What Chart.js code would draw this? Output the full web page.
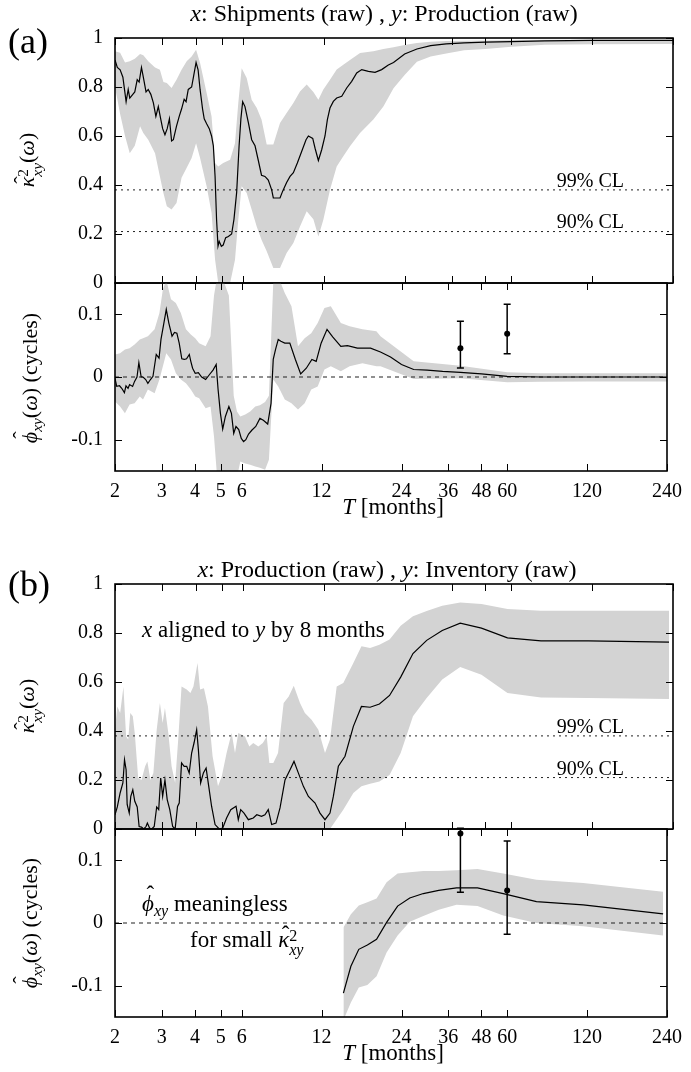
<!DOCTYPE html>
<html>
<head>
<meta charset="utf-8">
<script src="https://cdn.jsdelivr.net/npm/chart.js@4.4.1/dist/chart.umd.min.js"></script>
<style>
body { margin: 0; background: #fff; }
#wrap { position: relative; width: 691px; height: 1072px; overflow: hidden; font-family: "Liberation Serif", "Times New Roman", serif; color: #000; }
canvas { position: absolute; left: 0; }
.lbl { position: absolute; white-space: nowrap; line-height: 1; z-index: 5; }
.ctr { transform: translateX(-50%); }
.rgt { transform: translateX(-100%); }
.rot { transform: translate(-50%, -50%) rotate(-90deg); }
.acc { position: relative; display: inline-block; }
.acc .cf { position: absolute; left: 0.16em; top: -0.22em; font-style: normal; }
.acc .cf.hi { top: -0.40em; left: 0.2em; }
.sb { font-size: 0.7em; vertical-align: -0.3em; line-height: 0; }
.ss { display: inline-block; font-size: 0.7em; line-height: 0.9; vertical-align: -0.5em; text-align: left; }
</style>
</head>
<body>
<div id="wrap">
  <canvas id="cohA" width="691" height="310" style="top:0px"></canvas>
  <canvas id="phaA" width="691" height="287" style="top:253px"></canvas>
  <canvas id="cohB" width="691" height="310" style="top:550px"></canvas>
  <canvas id="phaB" width="691" height="273" style="top:799px"></canvas>

  <div class="lbl" style="left:8px; top:23px; font-size:36px">(a)</div>
  <div class="lbl ctr" style="left:384px; top:1px; font-size:24px"><i>x</i>: Shipments (raw) , <i>y</i>: Production (raw)</div>
  <div class="lbl rot" style="left:30px; top:160px; font-size:22px"><span class="acc"><i>κ</i><span class="cf">ˆ</span></span><span class="ss">2<br><i>xy</i></span>(<i>ω</i>)</div>
  <div class="lbl rot" style="left:30px; top:378px; font-size:22px"><span class="acc"><i>ϕ</i><span class="cf hi">ˆ</span></span><span class="sb"><i>xy</i></span>(<i>ω</i>) (cycles)</div>
  <div class="lbl rgt" style="left:624px; top:170px; font-size:20px">99% CL</div>
  <div class="lbl rgt" style="left:624px; top:211px; font-size:20px">90% CL</div>
  <div class="lbl ctr" style="left:393px; top:495px; font-size:23px"><i>T</i> [months]</div>

  <div class="lbl" style="left:8px; top:566px; font-size:36px">(b)</div>
  <div class="lbl ctr" style="left:387px; top:557px; font-size:24px"><i>x</i>: Production (raw) , <i>y</i>: Inventory (raw)</div>
  <div class="lbl rot" style="left:30px; top:706px; font-size:22px"><span class="acc"><i>κ</i><span class="cf">ˆ</span></span><span class="ss">2<br><i>xy</i></span>(<i>ω</i>)</div>
  <div class="lbl rot" style="left:30px; top:923px; font-size:22px"><span class="acc"><i>ϕ</i><span class="cf hi">ˆ</span></span><span class="sb"><i>xy</i></span>(<i>ω</i>) (cycles)</div>
  <div class="lbl rgt" style="left:624px; top:716px; font-size:20px">99% CL</div>
  <div class="lbl rgt" style="left:624px; top:758px; font-size:20px">90% CL</div>
  <div class="lbl" style="left:142px; top:618px; font-size:23px"><i>x</i> aligned to <i>y</i> by 8 months</div>
  <div class="lbl" style="left:142px; top:892px; font-size:23px"><span class="acc"><i>ϕ</i><span class="cf hi">ˆ</span></span><span class="sb"><i>xy</i></span> meaningless</div>
  <div class="lbl" style="left:190px; top:928px; font-size:23px">for small <span class="acc"><i>κ</i><span class="cf">ˆ</span></span><span class="ss">2<br><i>xy</i></span></div>
  <div class="lbl ctr" style="left:393px; top:1041px; font-size:23px"><i>T</i> [months]</div>
</div>
<script>
var xTicks = [2, 3, 4, 5, 6, 12, 24, 36, 48, 60, 120, 240];
var cohTicks = [0, 0.2, 0.4, 0.6, 0.8, 1];
var phaseTicks = [-0.1, 0, 0.1];
var CL99 = 0.38;
var CL90 = 0.21;

// (a) x: shipments, y: production -- coherence
var periodA = [2.00, 2.04, 2.09, 2.14, 2.20, 2.24, 2.27, 2.33, 2.37, 2.42, 2.46, 2.51, 2.55, 2.61, 2.66, 2.72, 2.78, 2.84, 2.90, 2.96,
  3.01, 3.07, 3.13, 3.19, 3.25, 3.30, 3.39, 3.47, 3.54, 3.62, 3.68, 3.75, 3.86, 3.92, 4.01, 4.08, 4.15, 4.24, 4.30, 4.39,
  4.49, 4.58, 4.65, 4.72, 4.78, 4.84, 4.89, 4.98, 5.06, 5.17, 5.29, 5.44, 5.55, 5.68, 5.80, 5.89, 5.98, 6.10, 6.28, 6.46,
  6.65, 6.84, 7.03, 7.24, 7.45, 7.67, 7.78, 8.00, 8.24, 8.43, 8.72, 8.98, 9.24, 9.56, 9.92, 10.30, 10.51, 10.91, 11.13, 11.45,
  11.78, 12.12, 12.37, 12.65, 13.02, 13.40, 13.99, 14.60, 15.24, 15.91, 16.61, 17.59, 18.62, 19.71, 20.87, 21.82, 24, 26.67, 30, 34.29,
  40, 48, 60, 80, 120, 240];
var coherA = [0.91, 0.88, 0.87, 0.84, 0.74, 0.79, 0.755, 0.77, 0.78, 0.83, 0.82, 0.88, 0.84, 0.78, 0.79, 0.77, 0.735, 0.68, 0.72, 0.67,
  0.63, 0.605, 0.63, 0.67, 0.58, 0.585, 0.64, 0.68, 0.71, 0.75, 0.74, 0.79, 0.80, 0.84, 0.90, 0.87, 0.79, 0.71, 0.67, 0.65,
  0.63, 0.60, 0.56, 0.435, 0.26, 0.15, 0.17, 0.15, 0.155, 0.185, 0.19, 0.20, 0.26, 0.37, 0.56, 0.67, 0.74, 0.72, 0.655, 0.585,
  0.56, 0.50, 0.44, 0.435, 0.42, 0.38, 0.347, 0.347, 0.347, 0.375, 0.41, 0.435, 0.45, 0.49, 0.537, 0.585, 0.60, 0.59, 0.55, 0.50,
  0.544, 0.60, 0.667, 0.714, 0.741, 0.755, 0.762, 0.796, 0.823, 0.857, 0.871, 0.864, 0.86, 0.871, 0.89, 0.90, 0.935, 0.955, 0.969, 0.976,
  0.98, 0.983, 0.985, 0.988, 0.99, 0.99];
var bandPeriodA = [2.00, 2.09, 2.18, 2.27, 2.37, 2.48, 2.55, 2.66, 2.82, 2.94, 3.03, 3.12, 3.25, 3.39, 3.54, 3.70, 3.86, 4.01, 4.15, 4.39,
  4.58, 4.72, 4.85, 5.06, 5.37, 5.60, 5.76, 5.93, 6.19, 6.46, 6.75, 7.03, 7.35, 7.78, 8.24, 8.72, 9.24, 9.78, 10.36, 10.97,
  11.45, 11.95, 12.65, 13.40, 14.18, 15.02, 16.37, 18.35, 20, 21.82, 24, 26.67, 30, 34.29, 40, 48, 60, 80, 120, 240];
var coherLowA = [0.80, 0.69, 0.60, 0.53, 0.56, 0.64, 0.612, 0.585, 0.53, 0.435, 0.367, 0.313, 0.30, 0.327, 0.43, 0.47, 0.51, 0.57, 0.51, 0.395,
  0.286, 0.095, 0, 0, 0, 0.095, 0.258, 0.395, 0.367, 0.30, 0.23, 0.177, 0.13, 0.061, 0.061, 0.122, 0.163, 0.231, 0.293, 0.26,
  0.19, 0.258, 0.381, 0.476, 0.517, 0.558, 0.612, 0.667, 0.72, 0.795, 0.849, 0.903, 0.924, 0.937, 0.95, 0.955, 0.964, 0.972, 0.975, 0.976];
var coherHighA = [0.946, 0.94, 0.90, 0.905, 0.915, 0.935, 0.93, 0.905, 0.88, 0.87, 0.82, 0.816, 0.796, 0.83, 0.87, 0.905, 0.925, 0.952, 0.898, 0.776,
  0.68, 0.49, 0.476, 0.49, 0.503, 0.57, 0.735, 0.877, 0.837, 0.748, 0.714, 0.667, 0.565, 0.565, 0.653, 0.694, 0.735, 0.782, 0.81, 0.78,
  0.748, 0.79, 0.83, 0.871, 0.891, 0.91, 0.939, 0.946, 0.955, 0.962, 0.971, 0.98, 0.985, 0.988, 0.989, 0.99, 0.992, 0.993, 0.993, 0.993];

// (a) phase
var phasePeriodA = [2.00, 2.03, 2.08, 2.12, 2.17, 2.20, 2.24, 2.27, 2.33, 2.37, 2.42, 2.46, 2.51, 2.55, 2.61, 2.66, 2.72, 2.78, 2.86, 2.93,
  2.98, 3.05, 3.12, 3.19, 3.28, 3.35, 3.42, 3.49, 3.57, 3.65, 3.72, 3.81, 3.86, 3.92, 4.01, 4.12, 4.24, 4.39, 4.54, 4.68,
  4.81, 4.89, 4.99, 5.09, 5.21, 5.37, 5.49, 5.60, 5.71, 5.85, 5.98, 6.10, 6.22, 6.37, 6.55, 6.78, 7.03, 7.24, 7.52, 7.74,
  7.89, 8.05, 8.24, 8.43, 8.72, 9.11, 9.56, 10.01, 10.51, 11.03, 11.45, 11.95, 12.58, 13.21, 14.18, 15.02, 16.37, 18.35, 20, 21.82,
  24, 26.67, 30, 34.29, 40, 48, 60, 80, 120, 240];
var phaseA = [-0.002, -0.015, -0.014, -0.018, -0.025, -0.014, -0.018, -0.012, -0.015, -0.007, 0, 0.023, 0, 0, -0.004, -0.01, -0.004, 0.001, 0.036, 0.03,
  0.06, 0.084, 0.108, 0.086, 0.065, 0.071, 0.07, 0.054, 0.029, 0.028, 0.029, 0.036, 0.025, 0.014, 0.006, 0.007, 0, -0.004, 0.004, 0.011,
  0.02, -0.02, -0.058, -0.083, -0.063, -0.047, -0.058, -0.09, -0.079, -0.084, -0.098, -0.103, -0.10, -0.091, -0.085, -0.079, -0.066, -0.069, -0.075, -0.042,
  0.028, 0.044, 0.06, 0.057, 0.054, 0.054, 0.028, 0.005, 0.014, 0.028, 0.025, 0.054, 0.076, 0.064, 0.049, 0.05, 0.046, 0.046, 0.04, 0.032,
  0.02, 0.012, 0.011, 0.009, 0.0075, 0.005, 0.001, 0, 0, 0];
var phaseBandPeriodA = [2.00, 2.09, 2.18, 2.27, 2.37, 2.48, 2.55, 2.66, 2.82, 2.94, 3.03, 3.12, 3.25, 3.39, 3.54, 3.70, 3.86, 4.01, 4.15, 4.39,
  4.58, 4.72, 4.85, 5.06, 5.37, 5.60, 5.76, 5.93, 6.19, 6.46, 6.75, 7.03, 7.35, 7.60, 7.89, 8.24, 8.72, 9.24, 9.78, 10.36,
  10.97, 11.6, 12.3, 13.0, 14.18, 15.3, 17.1, 19.3, 20, 26.67, 40, 60, 80, 120, 240];
var phaseLowA = [-0.039, -0.047, -0.058, -0.044, -0.042, -0.031, -0.036, -0.02, -0.026, -0.004, 0.017, 0.038, 0.028, 0.006, -0.004, -0.01, -0.02, -0.031, -0.034, -0.05,
  -0.047, -0.095, -0.16, -0.16, -0.16, -0.16, -0.16, -0.135, -0.138, -0.14, -0.143, -0.145, -0.148, -0.132, -0.004, -0.015, -0.036, -0.042, -0.052, -0.042,
  -0.02, -0.015, 0.012, 0.017, 0.009, 0.017, 0.022, 0.017, 0.017, -0.003, -0.002, -0.0085, -0.0075, -0.007, -0.007];
var phaseHighA = [0.036, 0.038, 0.044, 0.046, 0.052, 0.06, 0.062, 0.065, 0.076, 0.102, 0.14, 0.155, 0.124, 0.118, 0.102, 0.076, 0.068, 0.062, 0.054, 0.049,
  0.065, 0.13, 0.16, 0.16, 0.13, -0.03, -0.055, -0.063, -0.06, -0.055, -0.047, -0.045, -0.04, -0.03, 0.15, 0.16, 0.134, 0.113, 0.049, 0.062,
  0.07, 0.086, 0.11, 0.113, 0.086, 0.081, 0.076, 0.073, 0.065, 0.025, 0.018, 0.0075, 0.006, 0.006, 0.006];
var errPeriodA = [40, 60];
var errPhaseA = [0.046, 0.069];
var errLowA = [0.0144, 0.037];
var errHighA = [0.089, 0.116];

// (b) x: production, y: inventory -- coherence
var periodB = [2.00, 2.04, 2.09, 2.14, 2.17, 2.20, 2.22, 2.26, 2.29, 2.33, 2.37, 2.42, 2.46, 2.51, 2.56, 2.61, 2.64, 2.69, 2.74, 2.80,
  2.86, 2.91, 2.96, 3.01, 3.07, 3.13, 3.20, 3.28, 3.35, 3.42, 3.47, 3.54, 3.62, 3.70, 3.78, 3.86, 3.94, 4.03, 4.09, 4.17,
  4.27, 4.37, 4.47, 4.58, 4.72, 4.89, 5.04, 5.21, 5.40, 5.65, 5.76, 5.88, 6.05, 6.28, 6.55, 6.75, 7.03, 7.24, 7.45, 7.67,
  7.96, 8.24, 8.60, 8.98, 9.29, 9.64, 10.07, 10.51, 11.13, 11.61, 12.12, 12.65, 13.02, 13.59, 14.39, 15.46, 16.57, 17.85, 19.33, 21.09,
  23.2, 25.78, 29, 33.14, 38.67, 46.4, 58, 77.33, 116, 232];
var coherB = [0.058, 0.09, 0.147, 0.188, 0.283, 0.242, 0.10, 0.065, 0.133, 0.16, 0.113, 0.09, 0.01, 0.008, 0, 0.01, 0.024, 0.004, 0, 0.01,
  0.09, 0.079, 0.208, 0.133, 0.20, 0.12, 0.079, 0.01, 0, 0.092, 0.106, 0.27, 0.256, 0.256, 0.229, 0.31, 0.351, 0.405, 0.324, 0.188,
  0.229, 0.249, 0.174, 0.093, 0.018, 0, 0.004, 0.045, 0.079, 0.093, 0.038, 0.079, 0.065, 0.038, 0.045, 0.058, 0.052, 0.058, 0.079, 0.018,
  0.024, 0.086, 0.20, 0.242, 0.276, 0.229, 0.174, 0.133, 0.106, 0.065, 0.038, 0.065, 0.133, 0.256, 0.297, 0.419, 0.50, 0.497, 0.51, 0.545,
  0.62, 0.716, 0.77, 0.81, 0.84, 0.82, 0.78, 0.768, 0.768, 0.763];
var bandPeriodB = [2.00, 2.04, 2.09, 2.15, 2.20, 2.24, 2.28, 2.33, 2.37, 2.44, 2.51, 2.59, 2.64, 2.71, 2.78, 2.86, 2.94, 3.01, 3.07, 3.16,
  3.25, 3.35, 3.44, 3.54, 3.70, 3.82, 3.92, 4.06, 4.15, 4.29, 4.44, 4.62, 4.84, 5.00, 5.21, 5.44, 5.60, 5.76, 5.93, 6.10,
  6.33, 6.55, 6.84, 7.11, 7.35, 7.52, 7.78, 8.10, 8.50, 8.88, 9.27, 9.78, 10.2, 10.8, 11.45, 12.12, 12.65, 13.40, 14.18, 15.46,
  16.57, 17.85, 19.33, 21.09, 23.2, 25.78, 29, 33.14, 38.67, 46.4, 58, 77.33, 116, 232];
var coherLowB = [0, 0, 0, 0, 0, 0, 0, 0, 0, 0, 0, 0, 0, 0, 0, 0, 0, 0, 0, 0,
  0, 0, 0, 0, 0, 0, 0, 0, 0, 0, 0, 0, 0, 0, 0, 0, 0, 0, 0, 0,
  0, 0, 0, 0, 0, 0, 0, 0, 0, 0, 0, 0, 0, 0, 0, 0, 0, 0.04, 0.079, 0.147,
  0.174, 0.185, 0.194, 0.22, 0.31, 0.46, 0.535, 0.61, 0.661, 0.63, 0.555, 0.537, 0.535, 0.531];
var coherHighB = [0.405, 0.50, 0.473, 0.58, 0.378, 0.365, 0.473, 0.46, 0.39, 0.208, 0.20, 0.256, 0.276, 0.20, 0.229, 0.405, 0.514, 0.433, 0.494, 0.392,
  0.256, 0.188, 0.365, 0.582, 0.569, 0.555, 0.582, 0.678, 0.569, 0.575, 0.50, 0.297, 0.174, 0.215, 0.31, 0.392, 0.31, 0.392, 0.385, 0.378,
  0.337, 0.351, 0.337, 0.351, 0.378, 0.269, 0.269, 0.31, 0.514, 0.541, 0.585, 0.514, 0.473, 0.446, 0.405, 0.31, 0.365, 0.582, 0.596, 0.678,
  0.746, 0.739, 0.752, 0.773, 0.83, 0.868, 0.89, 0.911, 0.925, 0.918, 0.898, 0.891, 0.891, 0.891];

// (b) phase, only drawn where the coherence is large
var phasePeriodB = [14.5, 15.47, 16.57, 17.85, 19.33, 21.09, 23.2, 25.78, 29, 33.14, 38.67, 46.4, 58, 77.33, 116, 232];
var phaseB = [-0.112, -0.069, -0.042, -0.035, -0.026, 0.001, 0.027, 0.040, 0.047, 0.052, 0.056, 0.056, 0.047, 0.034, 0.029, 0.0145];
var phaseLowB = [-0.155, -0.127, -0.103, -0.099, -0.085, -0.047, -0.02, 0.002, 0.011, 0.021, 0.029, 0.027, 0.012, 0, -0.005, -0.02];
var phaseHighB = [-0.007, 0.014, 0.028, 0.033, 0.039, 0.065, 0.079, 0.081, 0.083, 0.083, 0.084, 0.086, 0.079, 0.069, 0.064, 0.05];
var errPeriodB = [40, 60];
var errPhaseB = [0.143, 0.052];
var errLowB = [0.049, -0.018];
var errHighB = [0.151, 0.131];

var FONT = "'Liberation Serif', 'Times New Roman', serif";
var BAND = '#d3d3d3';

(()=>{
	window.addEventListener('load', iniciar);
})();

function pts(xs, ys) {
	return xs.map(function(x, i) { return {x: x, y: ys[i]}; });
}

function flat(level) {
	return [{x: 2, y: level}, {x: 240, y: level}];
}

function bandSets(xs, lo, hi) {
	return [
		{data: pts(xs, hi), fill: '+1', backgroundColor: BAND, borderWidth: 0, order: 5},
		{data: pts(xs, lo), fill: false, borderWidth: 0, order: 6}
	];
}

function lineSet(xs, ys) {
	return {data: pts(xs, ys), borderColor: '#000', borderWidth: 1.2, fill: false, order: 1};
}

function refSet(level, dash) {
	return {data: flat(level), borderColor: '#222', borderWidth: 1, borderDash: dash, fill: false, order: 3};
}

// border with inward ticks on all four sides
function framePlugin(yVals) {
	return {
		id: 'frame',
		afterDatasetsDraw: function(chart) {
			var ctx = chart.ctx, a = chart.chartArea;
			var xs = chart.scales.x, ys = chart.scales.y;
			ctx.save();
			ctx.strokeStyle = '#000';
			ctx.lineWidth = 1;
			ctx.beginPath();
			xTicks.forEach(function(t) {
				var px = Math.round(xs.getPixelForValue(t)) + 0.5;
				ctx.moveTo(px, a.top); ctx.lineTo(px, a.top + 7);
				ctx.moveTo(px, a.bottom); ctx.lineTo(px, a.bottom - 7);
			});
			yVals.forEach(function(v) {
				var py = Math.round(ys.getPixelForValue(v)) + 0.5;
				ctx.moveTo(a.left, py); ctx.lineTo(a.left + 7, py);
				ctx.moveTo(a.right, py); ctx.lineTo(a.right - 7, py);
			});
			ctx.stroke();
			ctx.lineWidth = 1.6;
			ctx.strokeRect(a.left, a.top, a.right - a.left, a.bottom - a.top);
			ctx.restore();
		}
	};
}

function errorPlugin(xs, mid, lo, hi) {
	return {
		id: 'errbars',
		afterDatasetsDraw: function(chart) {
			var ctx = chart.ctx;
			var sx = chart.scales.x, sy = chart.scales.y;
			ctx.save();
			ctx.strokeStyle = '#000';
			ctx.fillStyle = '#000';
			ctx.lineWidth = 1.5;
			xs.forEach(function(t, i) {
				var px = sx.getPixelForValue(t);
				var y0 = sy.getPixelForValue(lo[i]), y1 = sy.getPixelForValue(hi[i]);
				ctx.beginPath();
				ctx.moveTo(px, y0); ctx.lineTo(px, y1);
				ctx.moveTo(px - 3.5, y0); ctx.lineTo(px + 3.5, y0);
				ctx.moveTo(px - 3.5, y1); ctx.lineTo(px + 3.5, y1);
				ctx.stroke();
				ctx.beginPath();
				ctx.arc(px, sy.getPixelForValue(mid[i]), 3, 0, Math.PI * 2);
				ctx.fill();
			});
			ctx.restore();
		}
	};
}

function crearPanel(id, datasets, yCfg, showX, pad, extra) {
	var ctx = document.getElementById(id).getContext('2d');
	var plugins = [framePlugin(yCfg.ticks)];
	if (extra) plugins.push(extra);
	return new Chart(ctx, {
		type: 'line',
		data: {datasets: datasets},
		plugins: plugins,
		options: {
			responsive: false,
			animation: false,
			devicePixelRatio: 1,
			layout: {padding: pad, autoPadding: false},
			elements: {point: {radius: 0}, line: {tension: 0}},
			plugins: {legend: {display: false}, tooltip: {enabled: false}},
			scales: {
				x: {
					type: 'logarithmic', min: 2, max: 240, display: showX,
					afterBuildTicks: function(s) { s.ticks = xTicks.map(function(v) { return {value: v}; }); },
					afterFit: function(s) { s.height = showX ? 40 : 0; },
					grid: {display: false, drawTicks: false},
					border: {display: false},
					ticks: {autoSkip: false, maxRotation: 0, padding: 9, color: '#000',
						font: {family: FONT, size: 20},
						callback: function(v) { return String(v); }}
				},
				y: {
					min: yCfg.min, max: yCfg.max,
					afterBuildTicks: function(s) { s.ticks = yCfg.ticks.map(function(v) { return {value: v}; }); },
					afterFit: function(s) { s.width = 115; },
					grid: {display: false, drawTicks: false},
					border: {display: false},
					ticks: {padding: 12, color: '#000', font: {family: FONT, size: 20},
						callback: function(v) { return String(v); }}
				}
			}
		}
	});
}

function iniciar() {
	var coh = {min: 0, max: 1, ticks: cohTicks};
	var pha = {min: -0.15, max: 0.15, ticks: phaseTicks};

	crearPanel('cohA',
		bandSets(bandPeriodA, coherLowA, coherHighA).concat([
			refSet(CL99, [2, 4]), refSet(CL90, [2, 4]), lineSet(periodA, coherA)]),
		coh, false, {left: 0, right: 18, top: 38, bottom: 27});

	crearPanel('phaA',
		bandSets(phaseBandPeriodA, phaseLowA, phaseHighA).concat([
			refSet(0, [4, 4]), lineSet(phasePeriodA, phaseA)]),
		pha, true, {left: 0, right: 18, top: 30, bottom: 29},
		errorPlugin(errPeriodA, errPhaseA, errLowA, errHighA));

	crearPanel('cohB',
		bandSets(bandPeriodB, coherLowB, coherHighB).concat([
			refSet(CL99, [2, 4]), refSet(CL90, [2, 4]), lineSet(periodB, coherB)]),
		coh, false, {left: 0, right: 18, top: 34, bottom: 31});

	crearPanel('phaB',
		bandSets(phasePeriodB, phaseLowB, phaseHighB).concat([
			refSet(0, [4, 4]), lineSet(phasePeriodB, phaseB)]),
		pha, true, {left: 0, right: 18, top: 30, bottom: 15},
		errorPlugin(errPeriodB, errPhaseB, errLowB, errHighB));
}
</script>
</body>
</html>
